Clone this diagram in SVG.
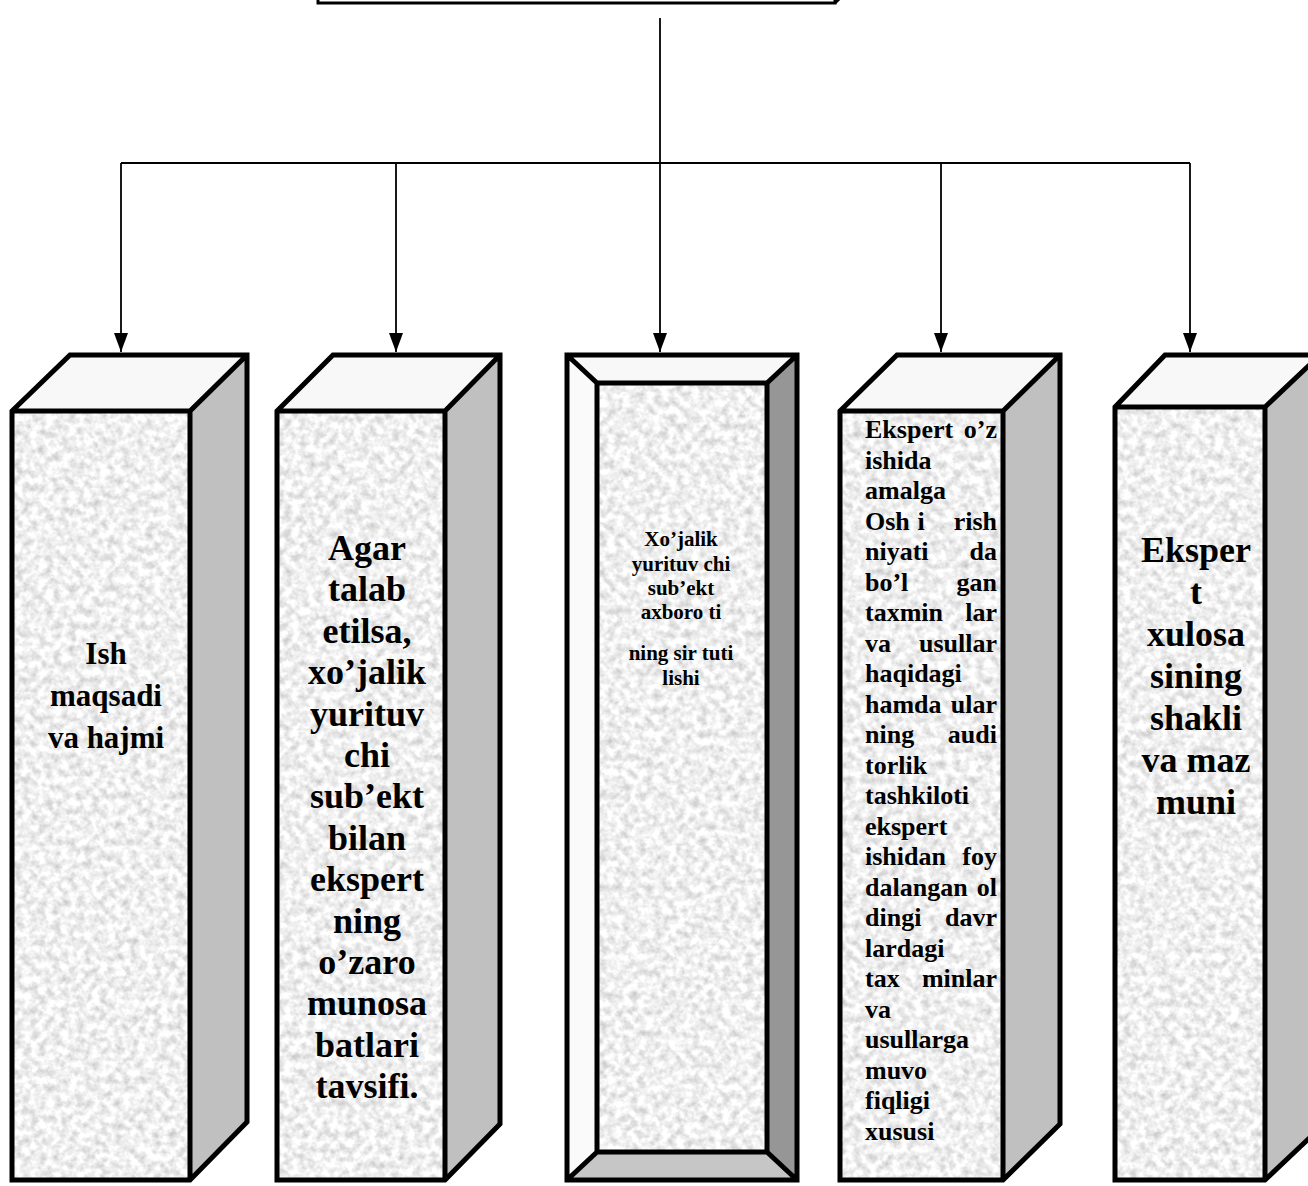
<svg xmlns="http://www.w3.org/2000/svg" width="1308" height="1186" viewBox="0 0 1308 1186">
<style>
.edge{stroke:#000;stroke-width:5;stroke-linejoin:miter;fill:none}
.top{fill:#f8f8f8}
.side{fill:#c0c0c0}
.face{fill:#eee;filter:url(#grain)}
.conn{stroke:#000;stroke-width:1.8;fill:none}
.big{font-family:"Liberation Serif","Times New Roman",serif;font-weight:bold;font-size:36px;text-anchor:middle;fill:#000}
.b1{font-size:31px}
.mid{font-family:"Liberation Serif","Times New Roman",serif;font-weight:bold;font-size:26px;fill:#000}
.small{font-family:"Liberation Serif","Times New Roman",serif;font-weight:bold;font-size:21px;text-anchor:middle;fill:#000}
</style>
<defs>
<filter id="grain" x="0" y="0" width="100%" height="100%" color-interpolation-filters="sRGB">
<feTurbulence type="fractalNoise" baseFrequency="0.13" numOctaves="3" seed="7" result="n"/>
<feColorMatrix in="n" type="matrix" values="0.38 0 0 0 0.75  0.38 0 0 0 0.75  0.38 0 0 0 0.75  0 0 0 0 1" result="g"/>
<feComposite in="g" in2="SourceGraphic" operator="in"/>
</filter>
<marker id="arr" markerWidth="19" markerHeight="14" refX="19" refY="7" orient="auto" markerUnits="userSpaceOnUse" viewBox="0 0 19 14">
<path d="M0,0 L19,7 L0,14 Z" fill="#000"/>
</marker>
</defs>
<rect width="1308" height="1186" fill="#fff"/>

<g id="top-box">
<path d="M318,-10 L318,3 L835,3 L835,-10" fill="#fff" stroke="#000" stroke-width="3"/>
<path d="M835,3 L842,-4" stroke="#000" stroke-width="3" fill="none"/>
</g>

<g id="connectors">
<path class="conn" d="M660,18 L660,163"/>
<path class="conn" d="M121,163 L1190,163"/>
<path class="conn" d="M121,163 L121,352" marker-end="url(#arr)"/>
<path class="conn" d="M396,163 L396,352" marker-end="url(#arr)"/>
<path class="conn" d="M660,163 L660,352" marker-end="url(#arr)"/>
<path class="conn" d="M941,163 L941,352" marker-end="url(#arr)"/>
<path class="conn" d="M1190,163 L1190,352" marker-end="url(#arr)"/>
</g>

<g id="box1">
<polygon class="top" points="12,411 70,355 247,355 190,411"/>
<polygon class="side" points="190,411 247,355 247,1122 190,1180"/>
<rect class="face" x="12" y="411" width="178" height="769"/>
<path class="edge" d="M12,411 L70,355 L247,355 L247,1122 L190,1180 L12,1180 Z M12,411 L190,411 L247,355 M190,411 L190,1180"/>
<text class="big b1"><tspan x="106" y="664">Ish</tspan><tspan x="106" y="706">maqsadi</tspan><tspan x="106" y="748">va hajmi</tspan></text>
</g>

<g id="box2">
<polygon class="top" points="277,411 333,355 500,355 445,411"/>
<polygon class="side" points="445,411 500,355 500,1124 445,1180"/>
<rect class="face" x="277" y="411" width="168" height="769"/>
<path class="edge" d="M277,411 L333,355 L500,355 L500,1124 L445,1180 L277,1180 Z M277,411 L445,411 L500,355 M445,411 L445,1180"/>
<text class="big"><tspan x="367" y="560">Agar</tspan><tspan x="367" y="601.4">talab</tspan><tspan x="367" y="642.8">etilsa,</tspan><tspan x="367" y="684.2">xo’jalik</tspan><tspan x="367" y="725.6">yurituv</tspan><tspan x="367" y="767">chi</tspan><tspan x="367" y="808.4">sub’ekt</tspan><tspan x="367" y="849.8">bilan</tspan><tspan x="367" y="891.2">ekspert</tspan><tspan x="367" y="932.6">ning</tspan><tspan x="367" y="974">o’zaro</tspan><tspan x="367" y="1015.4">munosa</tspan><tspan x="367" y="1056.8">batlari</tspan><tspan x="367" y="1098.2">tavsifi.</tspan></text>
</g>

<g id="box3">
<polygon class="top" points="567,355 797,355 767,383 597,383"/>
<polygon fill="#fafafa" points="567,355 597,383 597,1152 567,1180"/>
<polygon fill="#969696" points="797,355 797,1180 767,1152 767,383"/>
<polygon fill="#c6c6c6" points="567,1180 597,1152 767,1152 797,1180"/>
<rect class="face" x="597" y="383" width="170" height="769"/>
<path class="edge" d="M567,355 L797,355 L797,1180 L567,1180 Z M597,383 L767,383 L767,1152 L597,1152 Z M567,355 L597,383 M797,355 L767,383 M567,1180 L597,1152 M797,1180 L767,1152"/>
<text class="small"><tspan x="681" y="546">Xo’jalik</tspan><tspan x="681" y="571">yurituv chi</tspan><tspan x="681" y="595">sub’ekt</tspan><tspan x="681" y="619">axboro ti</tspan><tspan x="681" y="660">ning sir tuti</tspan><tspan x="681" y="685">lishi</tspan></text>
</g>

<g id="box4">
<polygon class="top" points="840,411 897,355 1060,355 1003,411"/>
<polygon class="side" points="1003,411 1060,355 1060,1124 1003,1180"/>
<rect class="face" x="840" y="411" width="163" height="769"/>
<path class="edge" d="M840,411 L897,355 L1060,355 L1060,1124 L1003,1180 L840,1180 Z M840,411 L1003,411 L1060,355 M1003,411 L1003,1180"/>
<g class="mid">
<text x="865" y="438">Ekspert</text><text x="997" y="438" text-anchor="end">o’z</text>
<text x="865" y="468.5">ishida</text>
<text x="865" y="499">amalga</text>
<text x="865" y="529.5">Osh</text><text x="921" y="529.5" text-anchor="middle">i</text><text x="997" y="529.5" text-anchor="end">rish</text>
<text x="865" y="560">niyati</text><text x="997" y="560" text-anchor="end">da</text>
<text x="865" y="590.5">bo’l</text><text x="997" y="590.5" text-anchor="end">gan</text>
<text x="865" y="621">taxmin</text><text x="997" y="621" text-anchor="end">lar</text>
<text x="865" y="651.5">va</text><text x="997" y="651.5" text-anchor="end">usullar</text>
<text x="865" y="682">haqidagi</text>
<text x="865" y="712.5">hamda</text><text x="997" y="712.5" text-anchor="end">ular</text>
<text x="865" y="743">ning</text><text x="997" y="743" text-anchor="end">audi</text>
<text x="865" y="773.5">torlik</text>
<text x="865" y="804">tashkiloti</text>
<text x="865" y="834.5">ekspert</text>
<text x="865" y="865">ishidan</text><text x="997" y="865" text-anchor="end">foy</text>
<text x="865" y="895.5">dalangan</text><text x="997" y="895.5" text-anchor="end">ol</text>
<text x="865" y="926">dingi</text><text x="997" y="926" text-anchor="end">davr</text>
<text x="865" y="956.5">lardagi</text>
<text x="865" y="987">tax</text><text x="997" y="987" text-anchor="end">minlar</text>
<text x="865" y="1017.5">va</text>
<text x="865" y="1048">usullarga</text>
<text x="865" y="1078.5">muvo</text>
<text x="865" y="1109">fiqligi</text>
<text x="865" y="1139.5">xususi</text>
</g>
</g>

<g id="box5">
<polygon class="top" points="1115,407 1165,355 1320,355 1265,407"/>
<polygon class="side" points="1265,407 1320,355 1320,1128 1265,1180"/>
<rect class="face" x="1115" y="407" width="150" height="773"/>
<path class="edge" d="M1115,407 L1165,355 L1320,355 L1320,1128 L1265,1180 L1115,1180 Z M1115,407 L1265,407 L1320,355 M1265,407 L1265,1180"/>
<text class="big"><tspan x="1196" y="562">Eksper</tspan><tspan x="1196" y="604">t</tspan><tspan x="1196" y="646">xulosa</tspan><tspan x="1196" y="688">sining</tspan><tspan x="1196" y="730">shakli</tspan><tspan x="1196" y="772">va maz</tspan><tspan x="1196" y="814">muni</tspan></text>
</g>
</svg>
